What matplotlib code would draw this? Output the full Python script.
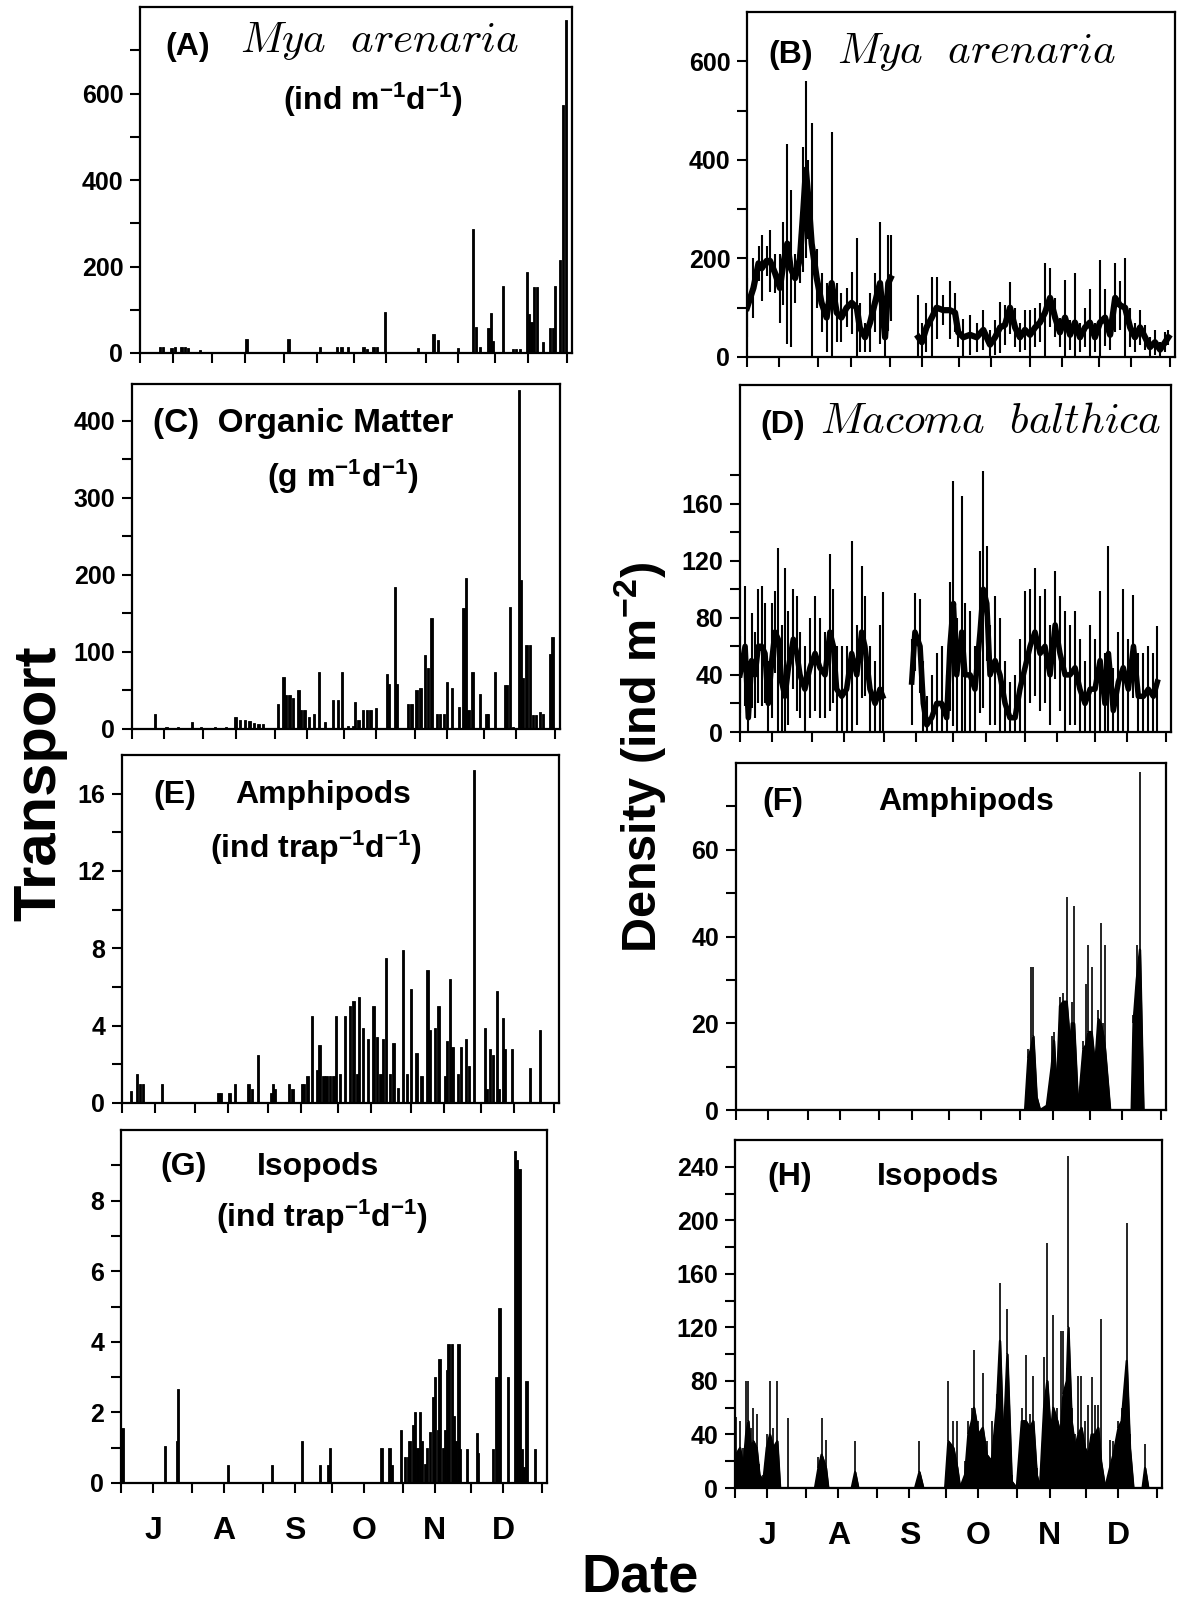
import numpy as np
import matplotlib.pyplot as plt

plt.rcParams['font.family'] = ['Liberation Sans', 'DejaVu Sans']
plt.rcParams['font.weight'] = 'bold'
plt.rcParams['mathtext.fontset'] = 'custom'
plt.rcParams['mathtext.rm'] = 'Liberation Sans:bold'
plt.rcParams['mathtext.it'] = 'Liberation Sans:bold'
plt.rcParams['mathtext.bf'] = 'Liberation Sans:bold'

nan = np.nan

# x axis: days since 1 July
month_starts = [0, 31, 62, 92, 123, 153, 184]
month_mids = [14, 45, 76, 106, 137, 167]
month_labels = ['J', 'A', 'S', 'O', 'N', 'D']

# (A) Mya arenaria transport
A_days = [8.6, 10, 13.6, 15, 17.9, 19.4, 20.8, 25.8, 45.9, 57.4, 63.9, 77.5, 84.7, 86.8, 89.7,
          96.2, 97.6, 100.5, 101.9, 105.5, 119.8, 126.3, 128.4, 137, 143.5, 144.7, 146.4,
          150, 151, 152.1, 156.4, 160.7, 162, 163.6, 166.5, 167.5, 168.5, 169.6, 170.8,
          173.6, 176.5, 177.7, 178.7, 180.8, 182, 183.4]
A_vals = [15, 15, 12, 15, 15, 15, 12, 6, 32, 3, 32, 13, 15, 15, 13,
          13, 10, 13, 13, 94, 11, 44, 30, 11, 286, 60, 15,
          57, 92, 28, 155, 10, 10, 10, 188, 90, 72, 153, 153,
          26, 57, 57, 155, 215, 573, 770]

# (B) Mya arenaria density
B_days = [0, 2.8, 5, 6.4, 8.5, 10, 12.2, 14.3, 15.8, 17.5, 19, 20.9, 23, 24.5, 25.6, 26.7, 28.1,
          30.3, 32.4, 34.6, 36.8, 39, 41, 43.3, 45.5, 47.7, 49, 51.3, 53.5, 55.6, 57.8, 60, 61.4,
          62.4, nan,
          74.5, 76, 78, 80.3, 82.4, 85.3, 88.2, 90.4, 91.8, 94, 96.9, 99.8, 102.7, 105.6, 107.8,
          110, 112.1, 114.3, 116.5, 118.6, 120.8, 123, 125.2, 127.3, 129.5, 131.7, 133.9, 136,
          138.2, 140.4, 142.5, 144.7, 146.9, 149, 151.2, 153.4, 155.6, 157.8, 160, 162.1, 164.3,
          166.5, 168.6, 170.8, 173, 175.1, 177.3, 179.5, 181.7, 183.1]
B_mean = [100, 140, 190, 180, 195, 195, 170, 140, 190, 230, 180, 160, 200, 300, 380, 320, 230,
          160, 110, 80, 150, 90, 80, 100, 110, 100, 60, 40, 70, 110, 150, 40, 150,
          160, nan,
          40, 30, 60, 80, 100, 95, 95, 90, 50, 40, 45, 40, 55, 25, 40,
          60, 65, 100, 60, 40, 55, 45, 60, 70, 90, 120, 80, 50,
          80, 45, 70, 40, 60, 70, 40, 70, 80, 45, 120, 105, 100,
          60, 40, 60, 40, 20, 30, 15, 30, 40]
B_err = [60, 60, 35, 67, 30, 63, 40, 70, 84, 203, 159, 50, 50, 127, 179, 80, 244,
         60, 60, 70, 307, 60, 50, 40, 63, 141, 50, 30, 60, 60, 124, 60, 97,
         87, nan,
         86, 40, 50, 83, 63, 30, 59, 40, 30, 37, 40, 30, 40, 30, 35,
         52, 40, 53, 40, 30, 40, 50, 40, 40, 100, 60, 40, 30,
         77, 30, 100, 30, 40, 67, 30, 127, 57, 30, 70, 50, 100,
         40, 30, 35, 25, 20, 25, 15, 20, 15]

# (C) Organic matter transport
C_days = [10, 15, 20, 26, 30, 36, 41, 45, 47, 49, 51, 53, 55, 57, 63.6, 65.8, 67, 68.5, 70, 72.3,
          73.5, 75, 77, 79, 81.4, 84, 87.5, 89.6, 91.4, 94, 96, 97, 98.4, 100.5, 102, 103.6, 106,
          110.7, 111.8, 114.3, 115, 120, 121.5, 123.7, 125.4, 127.3, 128.7, 130.2, 132.5, 134,
          135.5, 136.8, 139, 142, 144, 145.2, 146.2, 148, 151.2, 154, 154.8, 157.8, 162, 163,
          164.3, 165.6, 168.3, 168.9, 170, 171.5, 172.9, 174.4, 175.5, 177.3, 178.7, 181.7, 182.8]
C_vals = [19.5, 3, 2, 9.5, 2, 2, 3, 16, 12, 12, 10, 8, 6, 6, 33, 68, 44, 44, 40, 51,
          25, 25, 16, 20, 74, 9.5, 38, 38, 74, 4, 4, 35, 12, 25, 25, 25, 27,
          72, 59, 185, 59, 33, 33, 51, 53, 96, 79, 144, 20, 20,
          20, 61, 53, 29, 157, 196, 25, 74, 46, 20, 20, 74, 57, 57,
          159, 3, 440, 193, 66, 109, 109, 18, 18, 22, 20, 98, 120]

# (D) Macoma balthica density
D_days = [0, 2.2, 3.6, 5, 6.5, 7.9, 9.4, 10.8, 12.2, 13.7, 15.1, 16.5, 18, 19.4, 20.9, 23, 24.5,
          25.9, 28, 30.2, 32.4, 34.5, 36.7, 38.8, 40.3, 41.7, 43.9, 46, 48.2, 50.4, 52.5, 53.9,
          56.1, 58.3, 60.4, 61.6, nan,
          74.1, 75.5, 77.7, 79.1, 80.6, 82.7, 84.9, 87, 89.2, 90.6, 92.1, 93.5, 95.7, 97.1, 99.3,
          101.4, 103.6, 105, 106.5, 107.9, 110.1, 112.2, 114.4, 116.5, 118.7, 120.8, 123, 125.2,
          127.3, 129.5, 131.6, 133.8, 136, 138.1, 140.3, 142.4, 144.6, 146.7, 148.9, 151.1,
          153.2, 155.4, 157.5, 159, 161.1, 163.3, 165.4, 167.6, 169.8, 171.9, 174.1, 176.2,
          178.4, 180.1]
D_mean = [40, 60, 10, 50, 40, 60, 60, 55, 20, 50, 70, 65, 35, 25, 45, 65, 55,
          40, 30, 45, 55, 45, 40, 70, 60, 30, 25, 30, 55, 40, 70, 60,
          30, 20, 30, 25, nan,
          35, 70, 60, 20, 5, 10, 20, 20, 10, 60, 90, 40, 70, 40, 40,
          30, 70, 100, 90, 40, 50, 40, 20, 10, 10, 30, 45, 60,
          70, 55, 60, 40, 75, 55, 40, 40, 45, 30, 20, 30,
          30, 50, 20, 55, 15, 35, 45, 30, 60, 25, 25, 30,
          25, 35]
D_err = [27, 42, 40, 33, 30, 40, 42, 35, 30, 40, 29, 64, 40, 90, 40, 35, 40,
         30, 30, 35, 40, 35, 30, 55, 40, 30, 35, 30, 79, 35, 46, 35,
         30, 30, 45, 73, nan,
         30, 27, 33, 30, 20, 30, 35, 40, 30, 45, 86, 40, 95, 50, 45,
         30, 57, 83, 40, 35, 45, 40, 30, 25, 30, 35, 54, 40,
         45, 40, 40, 35, 38, 40, 45, 35, 40, 35, 30, 45,
         35, 49, 35, 75, 30, 35, 55, 35, 36, 30, 30, 30,
         30, 39]

# (E) Amphipod transport
E_days = [3.7, 6.5, 7.7, 9, 16.9, 41, 42, 45.7, 48, 53.8, 55.2, 58, 63.7, 64.4, 65.1, 71.2, 72.6,
          76.5, 77.5, 79, 81, 82.9, 84, 85.7, 87, 88.5, 90, 91, 92.8, 95, 97, 98.5, 100, 101,
          102.7, 104.8, 107, 108.4, 110, 111, 112.4, 114, 115.5, 117.6, 119.5, 121.2, 123,
          125.4, 127.5, 130, 131.1, 133.2, 134.7, 137.5, 138.2, 139.6, 140.7, 143, 144.3,
          146.4, 147.8, 149.8, 154.5, 155.3, 156.6, 158, 159.5, 160.3, 162.3, 163, 165.9,
          173.7, 178]
E_vals = [0.6, 1.5, 1.0, 1.0, 1.0, 0.5, 0.5, 0.5, 1.0, 1.0, 0.7, 2.5, 0.5, 1.0, 0.7, 1.0, 0.7,
          1.0, 1.0, 1.4, 4.5, 1.7, 3.0, 1.4, 1.4, 1.4, 1.4, 4.5, 1.5, 4.5, 5.0, 5.3, 1.5, 5.5,
          3.9, 3.3, 5.0, 3.4, 1.5, 3.3, 7.5, 1.5, 3.1, 0.8, 7.9, 1.5, 5.9,
          2.6, 1.4, 6.9, 3.8, 3.9, 5.0, 1.4, 3.2, 6.4, 2.9, 1.5, 2.9,
          3.3, 1.9, 17.2, 3.9, 0.7, 2.8, 2.5, 5.8, 0.7, 4.4, 2.8, 2.8,
          1.8, 3.8]

# (F) Amphipod density
F_days = [0, 125, 126.4, 127.5, 128.6, 130, 131.5, 134.4, 136.5, 137.5, 138.7, 140.1, 141.6, 143,
          144.5, 145.2, 146.2, 148, 150.2, 151.4, 152.4, 153.8, 155.3, 156.7, 157.7, 158.9,
          159.6, 161.8, 171.1, 171.9, 173.3, 174.7, 176.2, 186]
F_mean = [0, 0, 12, 14, 17, 3, 0, 1, 10, 16, 4, 24, 25, 25, 15, 20, 20, 0, 14, 15, 18, 18, 10,
          21, 20, 17, 14, 0, 0, 20, 30, 37, 0, 0]
F_err = [0, 0, 2, 19, 16, 0, 0, 0, 7, 2, 0, 2, 2, 24, 3, 5, 27, 0, 2, 14, 20, 15, 2, 2, 23, 3,
         24, 0, 0, 2, 8, 41, 0, 0]

# (G) Isopod transport
G_days = [0.7, 19.2, 24.4, 24.8, 46.6, 65.8, 78.9, 86.9, 90.6, 91.2, 113.8, 117.2, 118.2, 122.3,
          124, 125.5, 126, 127.7, 128.4, 129.5, 130.6, 131.5, 132.8, 133.7, 135, 136.4, 137.1,
          138.4, 139, 140.7, 141.4, 142.2, 143, 144.4, 145.2, 146, 147.3, 148, 151, 155.3, 156,
          162.3, 164, 165.2, 169.1, 172, 172.8, 174, 175, 175.7, 177.1, 180.8]
G_vals = [1.55, 1.05, 1.2, 2.65, 0.5, 0.5, 1.2, 0.5, 0.5, 1.0, 1.0, 1.0, 0.5, 1.5,
          0.75, 0.75, 1.2, 1.65, 2.0, 1.0, 2.0, 1.2, 0.55, 1.0, 1.45, 2.45, 3.0,
          1.5, 3.5, 1.0, 1.5, 3.2, 3.95, 3.95, 1.9, 1.2, 3.95, 0.95, 0.95, 1.43, 0.85,
          0.95, 3.0, 4.95, 3.0, 9.4, 9.15, 8.9, 0.95, 0.45, 2.9, 0.95]

# (H) Isopod density
H_days = [0.4, 2.2, 3.6, 4.8, 5.8, 6.8, 8, 9.4, 10.6, 12.3, 13.8, 15.2, 16.7, 18.4, 19.6, 22.5,
          23.2, 24, 34.8, 36.3, 37.7, 39.6, 40.6, 50.8, 52.3, 53.7, 78.4, 80.3, 82, 91.5, 92.9,
          95.1, 96.8, 98, 100.2, 101.6, 103.1, 104.1, 106, 107.9, 109.6, 111.8, 114, 115.4,
          116.9, 118.6, 120.5, 122.7, 124.9, 126.7, 128.5, 129.9, 131.4, 132.8, 134.6, 136,
          137.5, 138.6, 140.4, 141.8, 143, 144.5, 145.2, 146.6, 148.1, 149.5, 150.9, 152.4,
          153.9, 155.3, 156.8, 158.2, 159.4, 161.2, 163.3, 164.8, 167, 168.4, 170.6, 172,
          173.5, 177.5, 178.6, 180, 186]
H_mean = [25, 30, 15, 40, 50, 30, 35, 30, 10, 5, 30, 40, 30, 35, 0, 0,
          0, 0, 0, 15, 25, 15, 0, 0, 12, 0, 0, 12, 0, 0, 35,
          30, 15, 0, 10, 40, 50, 60, 40, 45, 25, 20, 60, 110,
          30, 100, 5, 0, 50, 50, 45, 50, 10, 0, 60, 80,
          40, 60, 50, 40, 70, 80, 120, 50, 30, 40, 45, 30,
          25, 40, 40, 45, 20, 0, 15, 25, 45, 50, 95, 30,
          0, 0, 15, 0, 0]
H_err = [28, 20, 15, 40, 30, 15, 25, 25, 8, 5, 10, 40, 15, 45, 0, 0,
         52, 0, 0, 8, 27, 21, 0, 0, 23, 0, 0, 23, 0, 0, 45,
         20, 35, 0, 10, 10, 10, 43, 10, 41, 10, 30, 10, 43,
         10, 34, 5, 0, 10, 49, 10, 34, 5, 0, 38, 103,
         10, 69, 10, 77, 47, 10, 128, 10, 10, 44, 39, 20,
         37, 43, 22, 17, 106, 0, 21, 10, 5, 10, 103, 10,
         0, 0, 18, 0, 0]

W, H = 1179, 1600
fig = plt.figure(figsize=(W / 100, H / 100), dpi=100)


def add_axes(l, t, r, b):
    return fig.add_axes([l / W, 1 - b / H, (r - l) / W, (b - t) / H])


def style(ax, ymax, major, minor, bottom=False):
    ax.set_xlim(0, 186)
    ax.set_ylim(0, ymax)
    ax.set_yticks(major)
    ax.set_yticks(minor, minor=True)
    ax.set_xticks(month_mids)
    ax.set_xticks(month_starts, minor=True)
    if bottom:
        ax.set_xticklabels(month_labels)
    else:
        ax.set_xticklabels([])
    ax.tick_params(axis='both', which='both', direction='out', length=7, width=1.5)
    ax.tick_params(axis='x', pad=17, labelsize=23)
    ax.tick_params(axis='y', pad=5, labelsize=18)
    for s in ax.spines.values():
        s.set_linewidth(1.6)


def label(x, y, s, **kw):
    fig.text(x / W, 1 - y / H, s, va='baseline', **kw)


def species(x, y, s):
    fig.text(x / W, 1 - y / H, s, va='baseline', math_fontfamily='cm', fontsize=31)


def bars(ax, days, vals):
    ax.bar(days, vals, width=1.0, color='black', linewidth=0.6, edgecolor='black')


def mean_err(ax, days, mean, err, lw=3.0):
    ax.errorbar(days, mean, yerr=err, fmt='-', color='black', lw=lw,
                elinewidth=1.5, capsize=0)


def spikes(ax, days, mean, err):
    ax.fill_between(days, 0, mean, color='black', linewidth=1.2)
    ax.plot(days, mean, color='black', lw=1.5)
    ax.errorbar(days, mean, yerr=[np.zeros(len(err)), err], fmt='none',
                ecolor='black', elinewidth=1.2, capsize=0)


# left column: transport
axA = add_axes(140, 7, 572, 353)
bars(axA, A_days, A_vals)
style(axA, 800, [0, 200, 400, 600], [100, 300, 500, 700])

axC = add_axes(132, 384, 560, 729)
bars(axC, C_days, C_vals)
style(axC, 448, [0, 100, 200, 300, 400], [50, 150, 250, 350])

axE = add_axes(122, 755, 559, 1103)
bars(axE, E_days, E_vals)
style(axE, 18, [0, 4, 8, 12, 16], [2, 6, 10, 14])

axG = add_axes(121, 1130, 547, 1483)
bars(axG, G_days, G_vals)
style(axG, 10, [0, 2, 4, 6, 8], [1, 3, 5, 7, 9], bottom=True)

# right column: density
axB = add_axes(747, 12, 1175, 357)
mean_err(axB, B_days, B_mean, B_err, lw=4.5)
style(axB, 700, [0, 200, 400, 600], [100, 300, 500])

axD = add_axes(740, 385, 1171, 732)
mean_err(axD, D_days, D_mean, D_err, lw=4.0)
style(axD, 243, [0, 40, 80, 120, 160], [20, 60, 100, 140, 180])

axF = add_axes(736, 763, 1166, 1110)
spikes(axF, F_days, F_mean, F_err)
style(axF, 80, [0, 20, 40, 60], [10, 30, 50, 70])

axH = add_axes(735, 1140, 1162, 1488)
spikes(axH, H_days, H_mean, H_err)
style(axH, 260, [0, 40, 80, 120, 160, 200, 240], [20, 60, 100, 140, 180, 220], bottom=True)

# panel titles
label(165, 55, '(A)', fontsize=23)
species(240, 52, r'$Mya\ \ arenaria$')
label(373, 110, r'(ind m$^{-1}$d$^{-1}$)', fontsize=23, ha='center')

label(768, 63, '(B)', fontsize=23)
species(837, 63, r'$Mya\ \ arenaria$')

label(153, 432, '(C)  Organic Matter', fontsize=24)
label(343, 487, r'(g m$^{-1}$d$^{-1}$)', fontsize=23, ha='center')

label(760, 433, '(D)', fontsize=23)
species(820, 433, r'$Macoma\ \ balthica$')

label(153, 803, '(E)', fontsize=23)
label(235, 803, 'Amphipods', fontsize=23)
label(316, 858, r'(ind trap$^{-1}$d$^{-1}$)', fontsize=23, ha='center')

label(762, 810, '(F)', fontsize=23)
label(878, 810, 'Amphipods', fontsize=23)

label(160, 1175, '(G)', fontsize=23)
label(257, 1175, 'Isopods', fontsize=23)
label(322, 1227, r'(ind trap$^{-1}$d$^{-1}$)', fontsize=23, ha='center')

label(767, 1185, '(H)', fontsize=23)
label(877, 1185, 'Isopods', fontsize=23)

# shared axis labels
fig.text(40 / W, 1 - 783 / H, 'Transport', rotation=90, ha='center', va='center', fontsize=43)
fig.text(640 / W, 1 - 757 / H, r'Density (ind m$^{-2}$)', rotation=90, ha='center',
         va='center', fontsize=35)
fig.text(640 / W, 1 - 1591 / H, 'Date', ha='center', va='baseline', fontsize=39)

fig.savefig('out.png', dpi=100)
